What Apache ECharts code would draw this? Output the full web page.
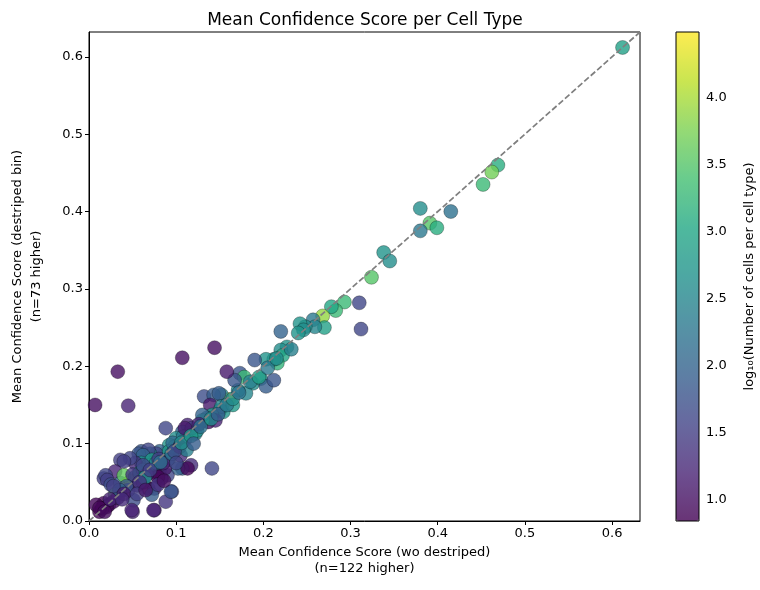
<!DOCTYPE html>
<html>
<head>
<meta charset="utf-8">
<script src="https://cdn.jsdelivr.net/npm/echarts@6/dist/echarts.min.js"></script>
<style>
  html, body { margin: 0; padding: 0; background: #fff; }
  #main { width: 760px; height: 590px; }
</style>
</head>
<body>
<div id="main"></div>
<script>
// Mean confidence score per cell type: wo destriped (x) vs destriped bin (y)
// colour = log10(number of cells per cell type)
var xScores = [
  0.612, 0.469, 0.462, 0.452, 0.380, 0.415, 0.391, 0.399, 0.380, 0.338,
  0.345, 0.324, 0.310, 0.312, 0.293, 0.283, 0.278, 0.268, 0.270, 0.257,
  0.259, 0.248, 0.242, 0.246, 0.240, 0.220,
  0.227, 0.220, 0.222, 0.216, 0.212, 0.203, 0.190, 0.173, 0.178, 0.188,
  0.197, 0.203, 0.212, 0.180, 0.171, 0.167, 0.160, 0.152, 0.132, 0.143,
  0.149, 0.139, 0.150, 0.154, 0.152, 0.165, 0.141, 0.135, 0.137, 0.145,
  0.130, 0.130, 0.113, 0.115, 0.107, 0.122, 0.124, 0.088,
  0.007, 0.033, 0.045, 0.107, 0.144, 0.158, 0.141, 0.117, 0.107, 0.102,
  0.113, 0.095, 0.088, 0.075, 0.050, 0.051,
  0.100, 0.102, 0.092, 0.087, 0.081, 0.077, 0.073, 0.092, 0.098, 0.092,
  0.105, 0.090, 0.081, 0.072, 0.090, 0.083, 0.087, 0.075, 0.079, 0.070,
  0.060, 0.068, 0.057, 0.062, 0.060, 0.068, 0.072, 0.077, 0.053, 0.047,
  0.036, 0.040, 0.030, 0.017, 0.019, 0.021, 0.025, 0.036, 0.038, 0.045,
  0.048, 0.040, 0.053, 0.058, 0.062, 0.030, 0.068, 0.075, 0.072, 0.049,
  0.074, 0.094, 0.012, 0.017, 0.008, 0.023, 0.028, 0.033, 0.020, 0.015,
  0.045, 0.055, 0.062, 0.066, 0.050, 0.043, 0.035, 0.028, 0.062, 0.064,
  0.080, 0.085, 0.095, 0.110, 0.108, 0.118, 0.126, 0.096, 0.104, 0.110,
  0.112,
  0.058, 0.070, 0.082, 0.098, 0.106, 0.117, 0.128, 0.140, 0.148, 0.158,
  0.165, 0.172, 0.185, 0.195, 0.205, 0.215, 0.232, 0.040, 0.024, 0.012,
  0.018, 0.038, 0.055, 0.065, 0.079, 0.086, 0.100, 0.120
];
var yScores = [
  0.612, 0.460, 0.451, 0.435, 0.404, 0.400, 0.385, 0.379, 0.375, 0.347,
  0.336, 0.315, 0.282, 0.248, 0.283, 0.272, 0.277, 0.265, 0.250, 0.260,
  0.251, 0.251, 0.255, 0.247, 0.243, 0.245,
  0.225, 0.221, 0.214, 0.204, 0.209, 0.209, 0.208, 0.191, 0.186, 0.178,
  0.184, 0.174, 0.182, 0.165, 0.169, 0.182, 0.157, 0.163, 0.161, 0.163,
  0.165, 0.150, 0.143, 0.141, 0.148, 0.150, 0.137, 0.133, 0.128, 0.130,
  0.130, 0.137, 0.124, 0.113, 0.115, 0.113, 0.117, 0.120,
  0.150, 0.193, 0.149, 0.211, 0.224, 0.193, 0.068, 0.072, 0.068, 0.068,
  0.068, 0.038, 0.025, 0.014, 0.012, 0.027,
  0.107, 0.098, 0.098, 0.087, 0.090, 0.087, 0.081, 0.081, 0.096, 0.090,
  0.085, 0.079, 0.066, 0.064, 0.059, 0.055, 0.068, 0.064, 0.057, 0.087,
  0.090, 0.092, 0.087, 0.085, 0.075, 0.072, 0.079, 0.075, 0.075, 0.081,
  0.079, 0.077, 0.064, 0.055, 0.059, 0.053, 0.047, 0.049, 0.040, 0.049,
  0.052, 0.059, 0.057, 0.062, 0.066, 0.034, 0.042, 0.042, 0.034, 0.014,
  0.014, 0.038, 0.012, 0.023, 0.021, 0.021, 0.025, 0.030, 0.018, 0.016,
  0.040, 0.046, 0.050, 0.060, 0.060, 0.045, 0.040, 0.045, 0.072, 0.056,
  0.080, 0.075, 0.087, 0.105, 0.109, 0.120, 0.125, 0.101, 0.096, 0.120,
  0.092,
  0.050, 0.066, 0.076, 0.090, 0.101, 0.110, 0.122, 0.132, 0.138, 0.150,
  0.158, 0.166, 0.180, 0.186, 0.198, 0.210, 0.222, 0.035, 0.028, 0.017,
  0.012, 0.028, 0.035, 0.040, 0.047, 0.052, 0.075, 0.100
];
var logCounts = [
  2.9, 3.1, 3.7, 3.3, 2.6, 2.2, 3.5, 3.1, 2.3, 2.7,
  2.6, 3.5, 1.6, 1.6, 3.3, 3.3, 3.0, 3.9, 2.9, 2.3,
  2.5, 2.6, 2.7, 2.6, 2.7, 2.0,
  2.7, 2.6, 3.0, 3.2, 2.8, 2.7, 1.8, 1.8, 3.3, 2.6,
  2.6, 1.9, 1.8, 2.5, 2.6, 1.8, 4.4, 2.5, 1.7, 1.9,
  1.9, 1.1, 2.7, 2.7, 2.5, 2.8, 2.8, 2.4, 1.0, 1.2,
  3.0, 2.0, 1.2, 2.6, 1.9, 2.5, 2.6, 1.6,
  1.0, 1.0, 1.2, 1.0, 1.0, 1.1, 1.6, 1.3, 1.9, 2.0,
  0.9, 1.6, 1.4, 1.2, 1.2, 1.7,
  2.6, 2.5, 2.7, 3.4, 2.0, 1.6, 1.8, 2.4, 2.5, 2.7,
  1.3, 2.0, 2.5, 2.6, 1.6, 1.2, 1.1, 1.0, 0.9, 2.4,
  1.8, 1.6, 1.8, 2.0, 2.6, 2.4, 2.8, 2.3, 1.3, 1.6,
  1.5, 1.5, 1.2, 1.5, 1.6, 1.5, 1.7, 1.9, 1.9, 4.2,
  4.0, 3.6, 2.5, 2.8, 2.3, 3.5, 0.9, 1.2, 1.9, 1.2,
  1.2, 1.8, 0.85, 0.9, 0.9, 0.95, 1.0, 1.1, 0.9, 0.9,
  1.3, 1.1, 1.0, 1.2, 1.4, 1.8, 2.0, 1.5, 1.6, 2.7,
  1.5, 1.2, 2.2, 1.4, 2.3, 1.5, 1.2, 2.1, 1.0, 1.1,
  2.4,
  1.4, 1.5, 2.2, 1.7, 2.6, 2.8, 2.2, 2.6, 1.9, 2.3,
  2.6, 2.2, 2.4, 2.9, 2.3, 2.6, 2.4, 1.1, 1.2, 0.9,
  0.95, 1.3, 1.5, 1.1, 1.4, 1.0, 1.6, 1.9
];
var axisTicks = [0, 0.1, 0.2, 0.3, 0.4, 0.5, 0.6];
var colorbarTicks = [1.0, 1.5, 2.0, 2.5, 3.0, 3.5, 4.0];

var axisMax = 0.632;
var cMin = 0.84, cMax = 4.49;

var viridis = ['#440154', '#482475', '#414487', '#355f8d', '#2a788e', '#21918c',
  '#22a884', '#44bf70', '#7ad151', '#bddf26', '#fde725'];
// same colours at alpha 0.8 over white, for the colour bar
var viridisFaded = ['#693476', '#6d5091', '#67699f', '#5d7fa4', '#5593a5', '#4da7a3',
  '#4eb99d', '#69cc8d', '#95da74', '#cae551', '#fdec51'];

var points = xScores.map(function (x, i) {
  return [x, yScores[i], logCounts[i]];
});

var font = 'DejaVu Sans';
var chart = echarts.init(document.getElementById('main'));

var option = {
  backgroundColor: '#ffffff',
  animation: false,
  title: {
    text: 'Mean Confidence Score per Cell Type',
    left: 360,
    textAlign: 'center',
    top: 7,
    textStyle: { fontFamily: font, fontSize: 17, fontWeight: 'normal', color: '#000' }
  },
  grid: [
    { left: 78, top: 32, width: 562, height: 489, show: true, borderColor: '#000', borderWidth: 1 },
    { left: 676, top: 32, width: 23, height: 489, show: true, borderColor: '#000', borderWidth: 1, z: 5 }
  ],
  xAxis: [{
    gridIndex: 0,
    type: 'value',
    min: 0, max: axisMax, interval: 0.1,
    name: 'Mean Confidence Score (wo destriped)\n(n=122 higher)',
    nameLocation: 'middle',
    nameGap: 24,
    nameTextStyle: { fontFamily: font, fontSize: 13, color: '#000', lineHeight: 16, verticalAlign: 'top' },
    axisLine: { show: true, lineStyle: { color: '#000' } },
    axisTick: { show: true, length: 4, lineStyle: { color: '#000' }, customValues: axisTicks },
    axisLabel: { fontFamily: font, fontSize: 13, color: '#000', margin: 6,
      customValues: axisTicks, formatter: function (v) { return v.toFixed(1); } },
    splitLine: { show: false }
  }, {
    gridIndex: 1, type: 'value', min: 0, max: 1, show: false
  }],
  yAxis: [{
    gridIndex: 0,
    type: 'value',
    min: 0, max: axisMax, interval: 0.1,
    name: 'Mean Confidence Score (destriped bin)\n(n=73 higher)',
    nameLocation: 'middle',
    nameGap: 43,
    nameTextStyle: { fontFamily: font, fontSize: 13, color: '#000', lineHeight: 19 },
    axisLine: { show: true, lineStyle: { color: '#000' } },
    axisTick: { show: true, length: 4, lineStyle: { color: '#000' }, customValues: axisTicks },
    axisLabel: { fontFamily: font, fontSize: 13, color: '#000', margin: 6,
      customValues: axisTicks, formatter: function (v) { return v.toFixed(1); } },
    splitLine: { show: false }
  }, {
    gridIndex: 1,
    type: 'value',
    position: 'right',
    min: cMin, max: cMax,
    name: 'log\u2081\u2080(Number of cells per cell type)',
    nameLocation: 'middle',
    nameGap: 44,
    nameTextStyle: { fontFamily: font, fontSize: 13, color: '#000' },
    axisLine: { show: false },
    axisTick: { show: true, length: 4, lineStyle: { color: '#000' }, customValues: colorbarTicks },
    axisLabel: { fontFamily: font, fontSize: 13, color: '#000', margin: 7,
      customValues: colorbarTicks, formatter: function (v) { return v.toFixed(1); } },
    splitLine: { show: false }
  }],
  visualMap: {
    type: 'continuous',
    seriesIndex: 0,
    dimension: 2,
    min: cMin, max: cMax,
    calculable: false,
    hoverLink: false,
    left: 676,
    top: 32,
    itemWidth: 23,
    itemHeight: 489,
    text: null,
    showLabel: false,
    padding: 0,
    inRange: { color: viridis },
    controller: { inRange: { color: viridisFaded } }
  },
  series: [{
    type: 'scatter',
    xAxisIndex: 0, yAxisIndex: 0,
    data: points,
    symbolSize: 14,
    itemStyle: { opacity: 0.8, borderColor: 'rgba(0,0,0,0.7)', borderWidth: 0.5 },
    emphasis: { disabled: true },
    z: 2
  }, {
    type: 'line',
    xAxisIndex: 0, yAxisIndex: 0,
    data: [[0, 0], [axisMax, axisMax]],
    symbol: 'none',
    lineStyle: { color: '#7f7f7f', width: 1.7, type: [6, 2.6] },
    emphasis: { disabled: true },
    silent: true,
    z: 3
  }]
};
chart.setOption(option);
</script>
</body>
</html>
